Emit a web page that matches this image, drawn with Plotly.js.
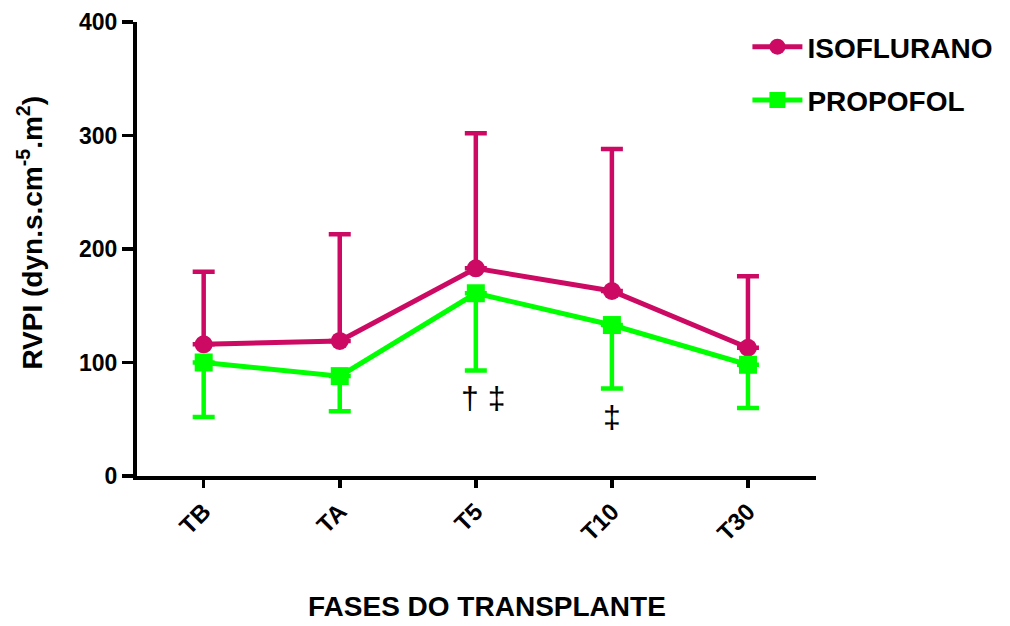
<!DOCTYPE html>
<html>
<head>
<meta charset="utf-8">
<script src="https://cdn.plot.ly/plotly-3.0.1.min.js"></script>
<style>
  html, body { margin: 0; padding: 0; background: #fff; }
  #chart { width: 1010px; height: 626px; }
</style>
</head>
<body>
<div id="chart"></div>
<script>
// ---- data ----
var categories = ['TB', 'TA', 'T5', 'T10', 'T30'];
var isoName = 'ISOFLURANO';
var isoMean = [116, 119, 183, 163, 113];
var isoUpper = [180, 213, 302, 288, 176];
var propName = 'PROPOFOL';
var propMean = [100, 88, 161, 133, 98];
var propLower = [52, 57, 93, 77, 60];
var yTickVals = [0, 100, 200, 300, 400];
var markLabels = ['† ‡', '‡'];
var markCats = ['T5', 'T10'];
var markY = [69, 52];
var xTitle = 'FASES DO TRANSPLANTE';
var yTitle = 'RVPI (dyn.s.cm<sup>-5</sup>.m<sup>2</sup>)';

var RED = '#CC0A64';
var GREEN = '#00FF00';
var FONT = 'Liberation Sans, Arial, sans-serif';

var isoErr = isoUpper.map(function (v, i) { return v - isoMean[i]; });
var isoErrMinus = isoMean.map(function () { return 0; });
var propErr = propMean.map(function () { return 0; });
var propErrMinus = propLower.map(function (v, i) { return propMean[i] - v; });

var traces = [
  {
    x: categories, y: isoMean, name: isoName, type: 'scatter', mode: 'lines+markers',
    legendgroup: 'a',
    line: { color: RED, width: 5 },
    marker: { symbol: 'circle', size: 18, color: RED },
    error_y: { type: 'data', symmetric: false, array: isoErr, arrayminus: isoErrMinus,
               color: RED, thickness: 4.5, width: 11 }
  },
  {
    x: categories, y: propMean, name: propName, type: 'scatter', mode: 'lines+markers',
    legendgroup: 'b',
    line: { color: GREEN, width: 5 },
    marker: { symbol: 'square', size: 18, color: GREEN },
    error_y: { type: 'data', symmetric: false, array: propErr, arrayminus: propErrMinus,
               color: GREEN, thickness: 4.5, width: 11 }
  }
];

var annotations = markLabels.map(function (t, i) {
  return {
    x: markCats[i], y: markY[i], xref: 'x', yref: 'y', text: t, showarrow: false,
    xshift: i === 0 ? 7 : 0,
    font: { family: FONT, size: 32, color: '#000' }
  };
});
annotations.push({
  x: 0.515, y: -0.288, xref: 'paper', yref: 'paper', text: xTitle, showarrow: false,
  xanchor: 'center', yanchor: 'middle',
  font: { family: FONT, size: 28, color: '#000', weight: 'bold' }
});
annotations.push({
  x: -0.157, y: 0.537, xref: 'paper', yref: 'paper', text: yTitle, showarrow: false,
  textangle: -90, xanchor: 'center', yanchor: 'middle',
  font: { family: FONT, size: 28, color: '#000', weight: 'bold' }
});

var layout = {
  width: 1010, height: 626,
  margin: { l: 137, r: 192, t: 22, b: 150 },
  paper_bgcolor: '#fff', plot_bgcolor: '#fff',
  showlegend: true,
  legend: {
    x: 0.899, y: 1.0, xanchor: 'left', yanchor: 'top',
    traceorder: 'grouped', tracegroupgap: 14, itemwidth: 50,
    font: { family: FONT, size: 28, color: '#000', weight: 'bold' },
    bgcolor: 'rgba(0,0,0,0)'
  },
  xaxis: {
    type: 'category', range: [-0.49, 4.5],
    showgrid: false, zeroline: false,
    showline: true, linecolor: '#000', linewidth: 4,
    ticks: 'outside', ticklen: 8, tickwidth: 3.5, tickcolor: '#000',
    tickangle: -45,
    tickfont: { family: FONT, size: 24, color: '#000', weight: 'bold' }
  },
  yaxis: {
    range: [0, 400], tickvals: yTickVals,
    showgrid: false, zeroline: false,
    showline: true, linecolor: '#000', linewidth: 4,
    ticks: 'outside', ticklen: 11, tickwidth: 3.5, tickcolor: '#000',
    tickfont: { family: FONT, size: 23, color: '#000', weight: 'bold' }
  },
  annotations: annotations
};

Plotly.newPlot('chart', traces, layout, { displayModeBar: false, staticPlot: true });
</script>
</body>
</html>
